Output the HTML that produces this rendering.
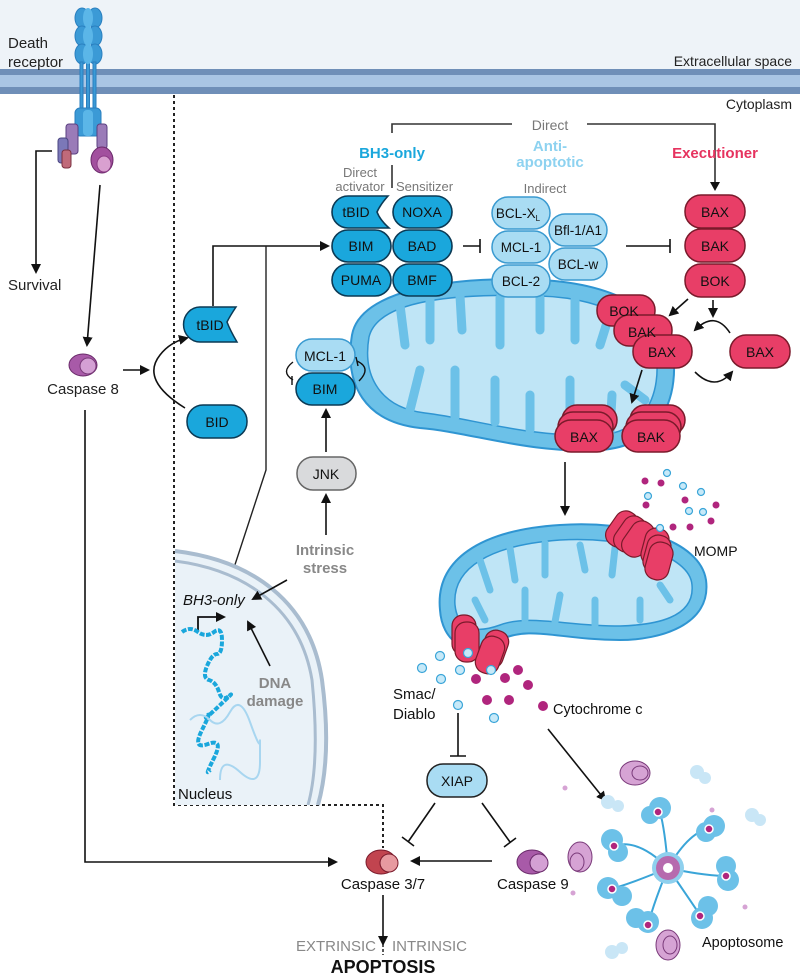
<!DOCTYPE html>
<html><head><meta charset="utf-8"><style>
html,body{margin:0;padding:0;background:#fff}
svg{display:block;font-family:"Liberation Sans",Arial,sans-serif}
</style></head><body>
<svg width="800" height="975" viewBox="0 0 800 975" xmlns="http://www.w3.org/2000/svg">
<defs>
<marker id="ar" markerWidth="10" markerHeight="10" refX="8" refY="5" orient="auto" markerUnits="userSpaceOnUse"><path d="M0,0 L10,5 L0,10 z" fill="#111"/></marker>
</defs>
<rect x="0" y="0" width="800" height="69" fill="#eef3f8"/>
<rect x="0" y="69" width="800" height="6" fill="#6f8fb8"/>
<rect x="0" y="75" width="800" height="12" fill="#a9c5e4"/>
<rect x="0" y="87" width="800" height="7" fill="#6f8fb8"/>
<text x="8" y="48" font-size="15" fill="#222">Death</text>
<text x="8" y="67" font-size="15" fill="#222">receptor</text>
<text x="792" y="66" font-size="14" fill="#222" text-anchor="end">Extracellular space</text>
<text x="792" y="109" font-size="14" fill="#222" text-anchor="end">Cytoplasm</text>
<g fill="#3b9ad6" stroke="#2a7fbf" stroke-width="1">
<ellipse cx="82" cy="18" rx="7" ry="10"/><ellipse cx="95" cy="18" rx="7" ry="10"/>
<ellipse cx="82" cy="36" rx="7" ry="10"/><ellipse cx="95" cy="36" rx="7" ry="10"/>
<ellipse cx="82" cy="54" rx="7" ry="10"/><ellipse cx="95" cy="54" rx="7" ry="10"/>
<rect x="80" y="62" width="3" height="50"/><rect x="86.5" y="62" width="3" height="50"/><rect x="93" y="62" width="3" height="50"/>
<rect x="75" y="108" width="26" height="28" rx="5"/>
</g>
<g fill="#5bb6e8"><ellipse cx="88" cy="18" rx="5" ry="10"/><ellipse cx="88" cy="36" rx="5" ry="10"/><ellipse cx="88" cy="54" rx="5" ry="10"/><rect x="83" y="110" width="10" height="26" rx="4"/></g>
<rect x="66" y="124" width="12" height="30" rx="3" fill="#9a7bb8" stroke="#5a3f80"/>
<rect x="58" y="138" width="10" height="25" rx="3" fill="#7b78b8" stroke="#4a4580"/>
<rect x="62" y="150" width="9" height="18" rx="3" fill="#c06a7a" stroke="#7a3040"/>
<rect x="97" y="124" width="10" height="25" rx="3" fill="#9a7bb8" stroke="#5a3f80"/>
<ellipse cx="102" cy="160" rx="11" ry="13" fill="#a2509e" stroke="#6a2a6a"/>
<ellipse cx="104" cy="164" rx="7" ry="8" fill="#d9a0d0" stroke="#8a3a85"/>
<path d="M52,151 L36,151 L36,272" fill="none" stroke="#111" stroke-width="1.6" marker-end="url(#ar)"/>
<text x="8" y="290" font-size="15" fill="#222">Survival</text>
<line x1="100" y1="185" x2="87" y2="345" stroke="#111" stroke-width="1.6" marker-end="url(#ar)"/>
<ellipse cx="83" cy="365" rx="14" ry="11" fill="#a85aa8" stroke="#6a2a6a"/>
<ellipse cx="88" cy="366" rx="8" ry="8" fill="#d4a0d4" stroke="#7a3a7a"/>
<text x="83" y="394" font-size="15" fill="#222" text-anchor="middle">Caspase 8</text>
<path d="M85,410 L85,862 L336,862" fill="none" stroke="#111" stroke-width="1.6" marker-end="url(#ar)"/>
<line x1="123" y1="370" x2="148" y2="370" stroke="#111" stroke-width="1.6" marker-end="url(#ar)"/>
<path d="M185,408 Q140,380 160,355 Q170,342 187,338" fill="none" stroke="#111" stroke-width="1.6" marker-end="url(#ar)"/>
<path d="M174,95 L174,805 L383,805 L383,848" fill="none" stroke="#222" stroke-width="2" stroke-dasharray="3,3"/>
<path d="M200,307 L236,307 Q230,316 227,322 Q230,330 237,342 L200,342 A16,17 0 0 1 200,307z" fill="#1aa7dc" stroke="#0b3a55" stroke-width="1.5"/>
<text x="210" y="330" font-size="14" fill="#111" text-anchor="middle">tBID</text>
<rect x="187" y="405" width="60" height="33" rx="16" fill="#1aa7dc" stroke="#0b3a55" stroke-width="1.5"/>
<text x="217" y="427" font-size="14" fill="#111" text-anchor="middle">BID</text>
<path d="M213,306 L213,246 L328,246" fill="none" stroke="#111" stroke-width="1.6" marker-end="url(#ar)"/>
<path d="M266,246 L266,470 L228,586" fill="none" stroke="#222" stroke-width="1.4"/>
<path d="M392,133 L392,124 L512,124 M587,124 L715,124 L715,186" fill="none" stroke="#333" stroke-width="1.6"/>
<polygon points="710,182 720,182 715,191" fill="#111"/>
<text x="550" y="130" font-size="14" fill="#777" text-anchor="middle">Direct</text>
<text x="392" y="158" font-size="15" font-weight="bold" fill="#1aa7dc" text-anchor="middle">BH3-only</text>
<text x="550" y="151" font-size="15" font-weight="bold" fill="#8dd2f0" text-anchor="middle">Anti-</text>
<text x="550" y="167" font-size="15" font-weight="bold" fill="#8dd2f0" text-anchor="middle">apoptotic</text>
<text x="715" y="158" font-size="15" font-weight="bold" fill="#e6335f" text-anchor="middle">Executioner</text>
<text x="360" y="177" font-size="13" fill="#777" text-anchor="middle">Direct</text>
<text x="360" y="191" font-size="13" fill="#777" text-anchor="middle">activator</text>
<line x1="392" y1="165" x2="392" y2="188" stroke="#333" stroke-width="1.6"/>
<text x="396" y="191" font-size="13" fill="#777">Sensitizer</text>
<text x="545" y="193" font-size="13" fill="#777" text-anchor="middle">Indirect</text>
<!-- mitochondrion 1 -->
<path d="M352,335 C360,290 450,276 540,280 C625,284 672,320 674,362 C676,412 650,447 600,450 C530,454 470,432 420,428 C365,422 344,385 352,335z" fill="#6cc1e8" stroke="#2f95d2" stroke-width="2"/>
<path d="M369,337 C378,300 455,293 540,296 C612,298 656,330 657,362 C659,407 635,434 598,435 C530,438 470,418 425,413 C382,408 362,378 369,337z" fill="#bfe5f6" stroke="#2f95d2" stroke-width="1.5"/>
<g stroke="#6cc1e8" stroke-width="9" stroke-linecap="round" fill="none">
<path d="M400,305 L405,345"/><path d="M430,298 L430,340"/><path d="M460,296 L462,330"/><path d="M500,298 L500,345"/><path d="M540,298 L540,330"/><path d="M575,300 L575,340"/><path d="M610,313 L600,345"/>
<path d="M410,410 L420,370"/><path d="M455,417 L455,370"/><path d="M495,422 L495,380"/><path d="M530,430 L530,395"/><path d="M570,432 L570,380"/><path d="M610,432 L612,395"/><path d="M645,400 L625,385"/>
</g>
<g stroke="#0b3a55" stroke-width="1.6" fill="#1aa7dc">
<path d="M348,196 L388,196 Q380,205 377,212 Q380,220 389,228 L348,228 A16,16 0 0 1 348,196z"/>
<rect x="332" y="230" width="59" height="32" rx="16"/>
<rect x="332" y="264" width="59" height="32" rx="16"/>
<rect x="393" y="196" width="59" height="32" rx="16"/>
<rect x="393" y="230" width="59" height="32" rx="16"/>
<rect x="393" y="264" width="59" height="32" rx="16"/>
</g>
<g font-size="14" fill="#111" text-anchor="middle">
<text x="356" y="217">tBID</text><text x="361" y="251">BIM</text><text x="361" y="285">PUMA</text>
<text x="422" y="217">NOXA</text><text x="422" y="251">BAD</text><text x="422" y="285">BMF</text>
</g>
<path d="M463,246 L480,246 M480,239 L480,253" stroke="#111" stroke-width="1.6"/>
<g stroke="#3a9ad0" stroke-width="1.5" fill="#a9dcf3">
<rect x="549" y="214" width="58" height="32" rx="16"/>
<rect x="549" y="248" width="58" height="32" rx="16"/>
<rect x="492" y="197" width="58" height="32" rx="16"/>
<rect x="492" y="231" width="58" height="32" rx="16"/>
<rect x="492" y="265" width="58" height="32" rx="16"/>
</g>
<g font-size="13.5" fill="#111" text-anchor="middle">
<text x="518" y="218">BCL-X<tspan font-size="8" dy="3">L</tspan></text>
<text x="521" y="252">MCL-1</text><text x="521" y="286">BCL-2</text>
<text x="578" y="235">Bfl-1/A1</text><text x="578" y="269">BCL-w</text>
</g>
<path d="M626,246 L670,246 M670,239 L670,253" stroke="#111" stroke-width="1.6"/>
<g stroke="#7a1a2b" stroke-width="1.5" fill="#e83e67">
<rect x="685" y="195" width="60" height="33" rx="16"/>
<rect x="685" y="229" width="60" height="33" rx="16"/>
<rect x="685" y="264" width="60" height="33" rx="16"/>
<rect x="597" y="295" width="58" height="31" rx="15"/>
<rect x="614" y="315" width="58" height="31" rx="15"/>
<rect x="633" y="335" width="59" height="33" rx="16"/>
<rect x="730" y="335" width="60" height="33" rx="16"/>
<rect x="562" y="405" width="55" height="30" rx="15"/><rect x="558" y="412" width="55" height="30" rx="15"/><rect x="555" y="420" width="58" height="32" rx="16"/>
<rect x="630" y="405" width="55" height="30" rx="15"/><rect x="626" y="412" width="55" height="30" rx="15"/><rect x="622" y="420" width="58" height="32" rx="16"/>
</g>
<g font-size="14" fill="#111" text-anchor="middle">
<text x="715" y="217">BAX</text><text x="715" y="251">BAK</text><text x="715" y="286">BOK</text>
<text x="624" y="316">BOK</text><text x="642" y="337">BAK</text><text x="662" y="357">BAX</text>
<text x="760" y="357">BAX</text><text x="584" y="442">BAX</text><text x="651" y="442">BAK</text>
</g>
<line x1="688" y1="299" x2="670" y2="315" stroke="#111" stroke-width="1.6" marker-end="url(#ar)"/>
<line x1="713" y1="300" x2="713" y2="316" stroke="#111" stroke-width="1.6" marker-end="url(#ar)"/>
<path d="M730,333 Q715,310 695,330" fill="none" stroke="#111" stroke-width="1.6" marker-end="url(#ar)"/>
<path d="M695,372 Q715,392 732,372" fill="none" stroke="#111" stroke-width="1.6" marker-end="url(#ar)"/>
<line x1="642" y1="370" x2="632" y2="402" stroke="#111" stroke-width="1.6" marker-end="url(#ar)"/>
<line x1="565" y1="462" x2="565" y2="514" stroke="#111" stroke-width="1.6" marker-end="url(#ar)"/>
<rect x="296" y="339" width="59" height="32" rx="16" fill="#a9dcf3" stroke="#3a9ad0" stroke-width="1.5"/>
<rect x="296" y="373" width="59" height="32" rx="16" fill="#1aa7dc" stroke="#0b3a55" stroke-width="1.5"/>
<text x="325" y="361" font-size="14" fill="#111" text-anchor="middle">MCL-1</text>
<text x="325" y="394" font-size="14" fill="#111" text-anchor="middle">BIM</text>
<path d="M293,362 Q280,372 293,380 M292,376 L292,385" fill="none" stroke="#111" stroke-width="1.4"/>
<path d="M357,361 Q372,368 359,381 M356,357 L358,366" fill="none" stroke="#111" stroke-width="1.4"/>
<line x1="326" y1="452" x2="326" y2="410" stroke="#111" stroke-width="1.6" marker-end="url(#ar)"/>
<rect x="297" y="457" width="59" height="33" rx="16" fill="#d9dadc" stroke="#666" stroke-width="1.5"/>
<text x="326" y="479" font-size="14" fill="#111" text-anchor="middle">JNK</text>
<line x1="326" y1="535" x2="326" y2="495" stroke="#111" stroke-width="1.6" marker-end="url(#ar)"/>
<text x="325" y="555" font-size="15" font-weight="bold" fill="#888" text-anchor="middle">Intrinsic</text>
<text x="325" y="573" font-size="15" font-weight="bold" fill="#888" text-anchor="middle">stress</text>
<path d="M175,551 C250,560 310,600 322,680 C330,740 325,780 318,805 L175,805 z" fill="#eaf2f8"/>
<path d="M175,551 C250,560 310,600 322,680 C330,740 325,780 318,805" fill="none" stroke="#a9bccf" stroke-width="4"/>
<path d="M175,561 C245,570 300,608 312,680 C318,740 315,780 308,805" fill="none" stroke="#a9bccf" stroke-width="3"/>
<line x1="287" y1="580" x2="253" y2="599" stroke="#111" stroke-width="1.6" marker-end="url(#ar)"/>
<line x1="270" y1="666" x2="248" y2="622" stroke="#111" stroke-width="1.6" marker-end="url(#ar)"/>
<text x="183" y="605" font-size="15" font-style="italic" fill="#111">BH3-only</text>
<path d="M198,632 L198,617 L224,617" fill="none" stroke="#111" stroke-width="1.8" marker-end="url(#ar)"/>
<text x="275" y="688" font-size="15" font-weight="bold" fill="#888" text-anchor="middle">DNA</text>
<text x="275" y="706" font-size="15" font-weight="bold" fill="#888" text-anchor="middle">damage</text>
<path d="M182,632 q8,-6 16,0 t16,0 t8,8 t-5,14 t-10,12 t2,14 t10,12 t10,4 t-10,10 t-12,10 t-5,14 t6,14 t6,14 t-4,12" fill="none" stroke="#1aa7dc" stroke-width="4" stroke-dasharray="5,1.5"/>
<path d="M190,720 q10,-10 20,0 t20,-8 t20,10 t10,20 t0,20 t-20,10 t-20,8" fill="none" stroke="#a8d6f0" stroke-width="2"/>
<text x="178" y="799" font-size="15" fill="#111">Nucleus</text>
<path d="M440,610 C435,560 480,530 560,525 C630,520 700,540 706,580 C712,625 660,640 620,640 C560,640 530,625 500,640 C465,660 442,640 440,610z" fill="#6cc1e8" stroke="#2f95d2" stroke-width="2"/>
<path d="M455,605 C452,568 490,545 560,540 C625,536 690,555 692,585 C695,618 655,625 620,626 C565,626 530,614 500,625 C470,636 457,625 455,605z" fill="#bfe5f6" stroke="#2f95d2" stroke-width="1.5"/>
<g stroke="#6cc1e8" stroke-width="7" stroke-linecap="round" fill="none">
<path d="M480,560 L490,590"/><path d="M510,548 L515,580"/><path d="M545,543 L545,575"/><path d="M580,545 L585,570"/><path d="M615,548 L612,575"/>
<path d="M475,600 L485,620"/><path d="M525,620 L525,590"/><path d="M555,622 L560,595"/><path d="M595,625 L595,600"/><path d="M640,620 L640,600"/><path d="M670,600 L660,585"/>
</g>
<g stroke="#7a1a2b" stroke-width="1.2" fill="#e83e67">
<rect x="610" y="510" width="24" height="38" rx="11" transform="rotate(35 622 529)"/><rect x="618" y="515" width="24" height="38" rx="11" transform="rotate(35 630 534)"/><rect x="626" y="520" width="24" height="38" rx="11" transform="rotate(35 638 539)"/>
<rect x="643" y="528" width="24" height="38" rx="11" transform="rotate(15 655 547)"/><rect x="645" y="535" width="24" height="38" rx="11" transform="rotate(15 657 554)"/><rect x="647" y="542" width="24" height="38" rx="11" transform="rotate(15 659 561)"/>
<rect x="452" y="615" width="24" height="40" rx="11"/><rect x="455" y="622" width="24" height="40" rx="11"/>
<rect x="482" y="630" width="24" height="38" rx="11" transform="rotate(20 494 649)"/><rect x="478" y="636" width="24" height="38" rx="11" transform="rotate(20 490 655)"/>
</g>
<text x="694" y="556" font-size="14" fill="#111">MOMP</text>
<g fill="#c7e9f8" stroke="#3aa5d8" stroke-width="1.2">
<circle cx="667" cy="473" r="3.5"/><circle cx="683" cy="486" r="3.5"/><circle cx="701" cy="492" r="3.5"/><circle cx="689" cy="511" r="3.5"/><circle cx="703" cy="512" r="3.5"/><circle cx="648" cy="496" r="3.5"/><circle cx="660" cy="528" r="3.5"/>
<circle cx="422" cy="668" r="4.5"/><circle cx="440" cy="656" r="4.5"/><circle cx="441" cy="679" r="4.5"/><circle cx="460" cy="670" r="4.5"/><circle cx="491" cy="670" r="4.5"/><circle cx="458" cy="705" r="4.5"/><circle cx="494" cy="718" r="4.5"/><circle cx="468" cy="653" r="4.5"/>
</g>
<g fill="#b0257d">
<circle cx="645" cy="481" r="3.5"/><circle cx="661" cy="483" r="3.5"/><circle cx="646" cy="505" r="3.5"/><circle cx="685" cy="500" r="3.5"/><circle cx="690" cy="527" r="3.5"/><circle cx="716" cy="505" r="3.5"/><circle cx="711" cy="521" r="3.5"/><circle cx="673" cy="527" r="3.5"/>
<circle cx="476" cy="679" r="5"/><circle cx="505" cy="678" r="5"/><circle cx="518" cy="670" r="5"/><circle cx="528" cy="685" r="5"/><circle cx="487" cy="700" r="5"/><circle cx="509" cy="700" r="5"/><circle cx="543" cy="706" r="5"/>
</g>
<text x="553" y="714" font-size="14.5" fill="#111">Cytochrome c</text>
<text x="393" y="699" font-size="15" fill="#111">Smac/</text>
<text x="393" y="719" font-size="15" fill="#111">Diablo</text>
<path d="M458,713 L458,756 M450,756 L466,756" stroke="#111" stroke-width="1.6" fill="none"/>
<rect x="427" y="764" width="60" height="33" rx="16" fill="#a9dcf3" stroke="#222" stroke-width="1.5"/>
<text x="457" y="786" font-size="14" fill="#111" text-anchor="middle">XIAP</text>
<path d="M435,803 L408,842 M402,837 L414,846" stroke="#111" stroke-width="1.6" fill="none"/>
<path d="M482,803 L510,842 M504,847 L516,838" stroke="#111" stroke-width="1.6" fill="none"/>
<line x1="492" y1="861" x2="412" y2="861" stroke="#111" stroke-width="1.6" marker-end="url(#ar)"/>
<line x1="548" y1="729" x2="605" y2="800" stroke="#111" stroke-width="1.6" marker-end="url(#ar)"/>
<ellipse cx="381" cy="862" rx="15" ry="12" fill="#c1444f" stroke="#7a1a2b"/>
<ellipse cx="389" cy="863" rx="9" ry="9" fill="#e79aa0" stroke="#7a1a2b"/>
<text x="383" y="889" font-size="15" fill="#111" text-anchor="middle">Caspase 3/7</text>
<ellipse cx="532" cy="862" rx="15" ry="12" fill="#a85aa8" stroke="#6a2a6a"/>
<ellipse cx="539" cy="863" rx="9" ry="9" fill="#d4a0d4" stroke="#6a2a6a"/>
<text x="497" y="889" font-size="15" fill="#111">Caspase 9</text>
<line x1="383" y1="895" x2="383" y2="944" stroke="#111" stroke-width="1.6" marker-end="url(#ar)"/>
<line x1="383" y1="944" x2="383" y2="955" stroke="#111" stroke-width="1.4" stroke-dasharray="3,2"/>
<text x="376" y="951" font-size="15" fill="#888" text-anchor="end">EXTRINSIC</text>
<text x="392" y="951" font-size="15" fill="#888">INTRINSIC</text>
<text x="383" y="973" font-size="18" font-weight="bold" fill="#111" text-anchor="middle">APOPTOSIS</text>
<g stroke="#3aa5d8" stroke-width="2" fill="none">
<path d="M668,868 Q690,830 712,828"/><path d="M668,868 Q665,830 660,812"/><path d="M668,868 Q640,840 617,845"/><path d="M668,868 Q640,880 615,888"/>
<path d="M668,868 Q655,900 650,918"/><path d="M668,868 Q690,900 700,915"/><path d="M668,868 Q700,875 723,876"/>
</g>
<g fill="#6cc1e8">
<circle cx="660" cy="808" r="11"/><circle cx="650" cy="815" r="9"/>
<circle cx="714" cy="826" r="11"/><circle cx="706" cy="832" r="10"/>
<circle cx="612" cy="840" r="11"/><circle cx="618" cy="852" r="10"/>
<circle cx="608" cy="888" r="11"/><circle cx="622" cy="896" r="10"/>
<circle cx="648" cy="922" r="11"/><circle cx="636" cy="918" r="10"/>
<circle cx="702" cy="918" r="11"/><circle cx="708" cy="906" r="10"/>
<circle cx="728" cy="880" r="11"/><circle cx="726" cy="866" r="10"/>
</g>
<g fill="#b0257d" stroke="#fff" stroke-width="1.5">
<circle cx="658" cy="812" r="4"/><circle cx="709" cy="829" r="4"/><circle cx="614" cy="846" r="4"/><circle cx="612" cy="889" r="4"/><circle cx="648" cy="925" r="4"/><circle cx="700" cy="916" r="4"/><circle cx="726" cy="876" r="4"/>
</g>
<circle cx="668" cy="868" r="16" fill="#8fd0ee"/>
<circle cx="668" cy="868" r="12" fill="#b66aae"/>
<circle cx="668" cy="868" r="5" fill="#fff"/>
<g fill="#d6a3d4" stroke="#7a3a7a" stroke-width="1">
<ellipse cx="635" cy="773" rx="15" ry="12"/><ellipse cx="640" cy="773" rx="8" ry="7"/>
<ellipse cx="580" cy="857" rx="12" ry="15"/><ellipse cx="577" cy="862" rx="7" ry="9"/>
<ellipse cx="668" cy="945" rx="12" ry="15"/><ellipse cx="670" cy="945" rx="7" ry="9"/>
</g>
<g fill="#c9e6f6"><circle cx="697" cy="772" r="7"/><circle cx="705" cy="778" r="6"/><circle cx="608" cy="802" r="7"/><circle cx="618" cy="806" r="6"/><circle cx="752" cy="815" r="7"/><circle cx="760" cy="820" r="6"/><circle cx="612" cy="952" r="7"/><circle cx="622" cy="948" r="6"/></g>
<g fill="#d6a3d4"><circle cx="565" cy="788" r="2.5"/><circle cx="712" cy="810" r="2.5"/><circle cx="573" cy="893" r="2.5"/><circle cx="745" cy="907" r="2.5"/></g>
<text x="702" y="947" font-size="14.5" fill="#111">Apoptosome</text>
</svg>
</body></html>
